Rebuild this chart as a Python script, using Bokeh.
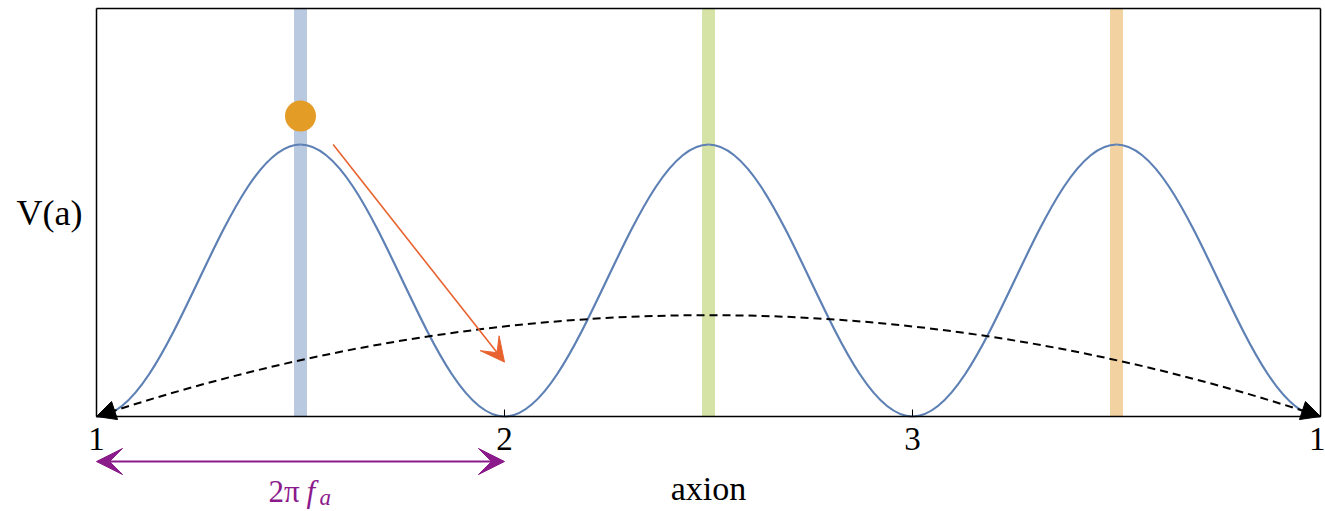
from bokeh.plotting import figure
from bokeh.models import Range1d, FixedTicker, Arrow, VeeHead, NormalHead, Label, LinearAxis
from bokeh.embed import file_html
from bokeh.resources import INLINE

# ---- data ----
extreme_x = [1.0, 1.5, 2.0, 2.5, 3.0, 3.5, 4.0]      # minima / maxima of V(a)
extreme_v = [0.0, 2.0, 0.0, 2.0, 0.0, 2.0, 0.0]
band_x = [1.5, 2.5, 3.5]
band_colors = ["#B9C9DF", "#D5E3A6", "#F2D2A0"]
tick_values = [1, 2, 3, 4]
tick_labels = ["1", "2", "3", "1"]
ball_x = [1.5]
ball_y = [2.21]
arc_start = (1.0, 0.0)
arc_end = (4.0, 0.0)
arc_peak_x = 2.5
arc_peak_v = 0.745
roll_start = (1.58, 2.0)
roll_end = (2.0, 0.40)
period_start = 1.0
period_end = 2.0
x_lo, x_hi = 1.0, 4.0
v_lo, v_hi = 0.0, 3.0

SERIF = "Liberation Serif"
W, H = 1325, 511
LEFT, RIGHT, TOP, BOTTOM = 96, 5, 8, 95          # margins around the plotting box in px
xs = (x_hi - x_lo) / (W - LEFT - RIGHT)          # data units per px
ys = (v_hi - v_lo) / (H - TOP - BOTTOM)

p = figure(width=W, height=H, output_backend="svg", toolbar_location=None,
           x_range=Range1d(x_lo - LEFT * xs, x_hi + RIGHT * xs),
           y_range=Range1d(v_lo - BOTTOM * ys, v_hi + TOP * ys),
           x_axis_location=None, y_axis_location=None,
           min_border=0)
p.background_fill_color = "white"
p.border_fill_color = "white"
p.outline_line_color = None
p.grid.visible = False

def plain(axis):
    axis.axis_line_color = "black"
    axis.axis_line_width = 1.5
    axis.minor_tick_line_color = None
    return axis

# bottom axis at V = 0
xa = plain(LinearAxis(fixed_location=v_lo, bounds=(x_lo, x_hi)))
xa.ticker = FixedTicker(ticks=tick_values)
xa.major_label_overrides = {v: l for v, l in zip(tick_values, tick_labels)}
xa.major_tick_in = 7
xa.major_tick_out = 0
xa.major_tick_line_color = "black"
xa.major_label_text_font = SERIF
xa.major_label_text_font_size = "33px"
xa.major_label_text_color = "black"
xa.major_label_standoff = 11
xa.axis_label = "axion"
xa.axis_label_text_font = SERIF
xa.axis_label_text_font_size = "34px"
xa.axis_label_text_font_style = "normal"
xa.axis_label_text_color = "black"
xa.axis_label_standoff = 17
p.add_layout(xa, "below")

# left axis at x = 1, with the V(a) label
ya = plain(LinearAxis(fixed_location=x_lo, bounds=(v_lo, v_hi)))
ya.ticker = FixedTicker(ticks=[(v_lo + v_hi) / 2])
ya.major_label_overrides = {(v_lo + v_hi) / 2: "V(a)"}
ya.major_tick_in = 0
ya.major_tick_out = 0
ya.major_label_text_font = SERIF
ya.major_label_text_font_size = "36px"
ya.major_label_text_color = "black"
ya.major_label_standoff = 14
p.add_layout(ya, "left")

# top and right frame lines
ta = plain(LinearAxis(fixed_location=v_hi, bounds=(x_lo, x_hi)))
ta.ticker = FixedTicker(ticks=[])
ta.major_tick_line_color = None
ta.major_label_text_font_size = "0px"
p.add_layout(ta, "above")
ra = plain(LinearAxis(fixed_location=x_hi, bounds=(v_lo, v_hi)))
ra.ticker = FixedTicker(ticks=[])
ra.major_tick_line_color = None
ra.major_label_text_font_size = "0px"
p.add_layout(ra, "right")

# vertical bands
p.vbar(x=band_x, width=13 * xs, top=v_hi, bottom=v_lo, color=band_colors, line_color=None)

# potential V(a) as cubic Bezier half-periods
x0 = extreme_x[:-1]; x1 = extreme_x[1:]
y0 = extreme_v[:-1]; y1 = extreme_v[1:]
k = 0.364
cx0 = [a + k * (b - a) for a, b in zip(x0, x1)]
cx1 = [b - k * (b - a) for a, b in zip(x0, x1)]
p.bezier(x0=x0, y0=y0, x1=x1, y1=y1, cx0=cx0, cy0=y0, cx1=cx1, cy1=y1,
         line_color="#5E81B5", line_width=2.2)

# dashed arc
p.quadratic(x0=[arc_start[0]], y0=[arc_start[1]], x1=[arc_end[0]], y1=[arc_end[1]],
            cx=[arc_peak_x], cy=[2 * arc_peak_v], line_color="black", line_width=2,
            line_dash="8 5")

# black arrowheads at both ends of the arc
d = 0.05
slope = 2 * arc_peak_v / (arc_peak_x - arc_start[0])
for (sx, sy), sign in ((arc_start, 1), (arc_end, -1)):
    p.add_layout(Arrow(x_start=sx + sign * d, y_start=sy + d * slope, x_end=sx, y_end=sy,
                       line_alpha=0,
                       end=NormalHead(size=19, fill_color="black", line_color="black")))

# ball
p.scatter(x=ball_x, y=ball_y, size=31, color="#E39C26", line_color=None)

# rolling arrow
p.add_layout(Arrow(x_start=roll_start[0], y_start=roll_start[1], x_end=roll_end[0], y_end=roll_end[1],
                   line_color="#E8622F", line_width=1.6,
                   end=VeeHead(size=24, fill_color="#E8622F", line_color="#E8622F")))

# period arrow below the axis
PURPLE = "#8B1A8B"
arrow_v = v_lo - 45 * ys
label_v = v_lo - 75 * ys
p.add_layout(Arrow(x_start=period_start, y_start=arrow_v, x_end=period_end, y_end=arrow_v,
                   line_color=PURPLE, line_width=2,
                   start=VeeHead(size=26, fill_color=PURPLE, line_color=PURPLE),
                   end=VeeHead(size=26, fill_color=PURPLE, line_color=PURPLE)))
mid = (period_start + period_end) / 2
p.add_layout(Label(x=mid, y=label_v, x_offset=-32, text="2π", text_font=SERIF,
                   text_font_size="31px", text_color=PURPLE, text_baseline="middle", text_align="left"))
p.add_layout(Label(x=mid, y=label_v, x_offset=6, text="f", text_font=SERIF, text_font_style="italic",
                   text_font_size="31px", text_color=PURPLE, text_baseline="middle", text_align="left"))
p.add_layout(Label(x=mid, y=label_v, x_offset=19, y_offset=-6, text="a", text_font=SERIF,
                   text_font_style="italic", text_font_size="23px", text_color=PURPLE,
                   text_baseline="middle", text_align="left"))

open("out.html", "w").write(file_html(p, INLINE))
